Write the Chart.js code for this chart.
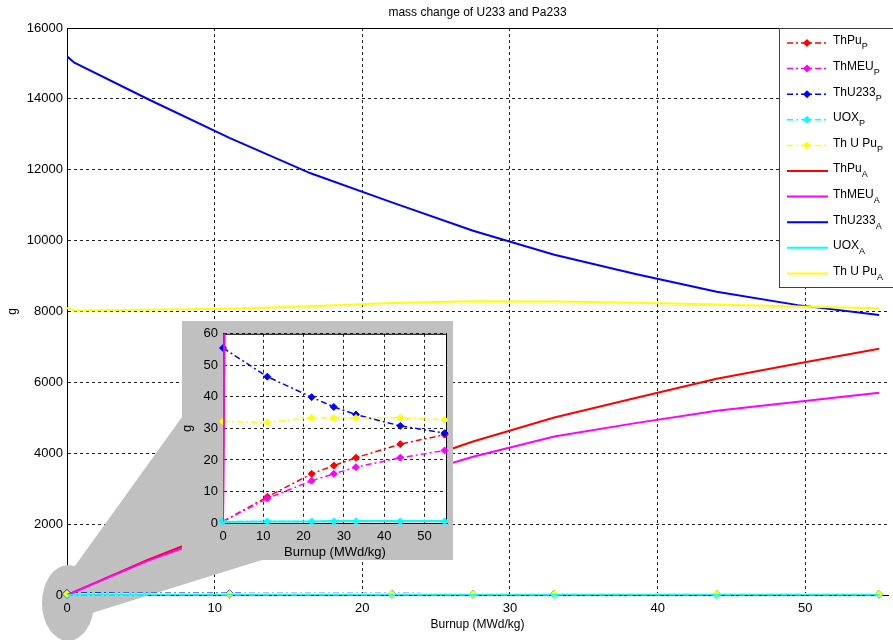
<!DOCTYPE html>
<html>
<head>
<meta charset="utf-8">
<title>mass change of U233 and Pa233</title>
<script src="https://cdn.jsdelivr.net/npm/chart.js@4.4.0/dist/chart.umd.min.js"></script>
<style>
  html, body { margin: 0; padding: 0; background: #fff; }
  #wrap { position: relative; width: 893px; height: 640px; overflow: hidden; }
  #main { position: absolute; left: 0; top: 0; }
  #inset { position: absolute; background: #c0c0c0; }
</style>
</head>
<body>
<div id="wrap">
  <canvas id="main" width="893" height="640"></canvas>
  <canvas id="inset" width="271" height="239"></canvas>
</div>
<script>
'use strict';

// burnup steps (MWd/kg)
var burnupP = [0, 11, 22, 27.5, 33, 44, 55];
var burnupA = [0, 0.5, 5.5, 11, 16.5, 22, 27.5, 33, 38.5, 44, 49.5, 55];

// Pa233 mass (g)
var thPuP = [0.5, 8.3, 15.6, 18.2, 20.7, 25.0, 28.0];
var thMeuP = [0.5, 7.8, 13.4, 15.6, 17.7, 20.7, 23.0];
var thU233P = [55.5, 46.4, 39.9, 36.8, 34.4, 30.8, 28.5];
var uoxP = [0.5, 0.5, 0.5, 0.5, 0.5, 0.5, 0.5];
var thUPuP = [32.2, 31.9, 33.4, 33.3, 33.3, 33.4, 32.7];

// U233 mass (g)
var thPuA = [0, 90, 1000, 1900, 2750, 3550, 4330, 5010, 5560, 6100, 6530, 6950];
var thMeuA = [0, 90, 970, 1800, 2550, 3220, 3900, 4470, 4850, 5200, 5450, 5710];
var thU233A = [15200, 15020, 13990, 12900, 11900, 11080, 10280, 9600, 9060, 8560, 8180, 7900];
var uoxA = [0, 0.3, 0.4, 0.5, 0.5, 0.5, 0.6, 0.6, 0.6, 0.6, 0.6, 0.6];
var thUPuA = [8100, 8030, 8050, 8080, 8150, 8240, 8290, 8280, 8250, 8200, 8140, 8090];

var seriesNames = ['ThPu', 'ThMEU', 'ThU233', 'UOX', 'Th U Pu'];
var seriesColors = ['#ff0000', '#ff00ff', '#0000ff', '#00ffff', '#ffff00'];
var pSeries = [thPuP, thMeuP, thU233P, uoxP, thUPuP];
var aSeries = [thPuA, thMeuA, thU233A, uoxA, thUPuA];

var xTicksMain = [0, 10, 20, 30, 40, 50];
var yTicksMain = [0, 2000, 4000, 6000, 8000, 10000, 12000, 14000, 16000];
var yTicksInset = [0, 10, 20, 30, 40, 50, 60];
var xMax = 55.6;

var FONT = '"Liberation Sans", Arial, sans-serif';
Chart.defaults.font.family = FONT;
Chart.defaults.color = '#000';

// inset placement
var inset = { left: 182, top: 321, width: 271, height: 239 };
var insetCanvas = document.getElementById('inset');
insetCanvas.style.left = inset.left + 'px';
insetCanvas.style.top = inset.top + 'px';

function points(xs, ys) {
  return xs.map(function(x, i) { return { x: x, y: ys[i] }; });
}

function plainLabel(v) { return String(v); }

function buildDatasets() {
  var sets = [];
  var i;
  for (i = 0; i < 5; i++) {
    sets.push({
      label: seriesNames[i] + '_P',
      data: points(burnupP, pSeries[i]),
      borderColor: seriesColors[i],
      backgroundColor: seriesColors[i],
      borderWidth: 1.5,
      borderDash: [6, 3, 2, 3],
      pointStyle: 'rectRot',
      pointRadius: 3.5,
      pointBorderWidth: 1,
      clip: 6,
      order: 20 - i
    });
  }
  for (i = 0; i < 5; i++) {
    sets.push({
      label: seriesNames[i] + '_A',
      data: points(burnupA, aSeries[i]),
      borderColor: seriesColors[i],
      backgroundColor: seriesColors[i],
      borderWidth: 2,
      pointRadius: 0,
      order: 15 - i
    });
  }
  return sets;
}

function gridOpts() {
  return { color: '#222', lineWidth: 1, drawTicks: false };
}

// grey zoom callout + box top line (main chart)
var calloutPlugin = {
  id: 'callout',
  beforeDatasetsDraw: function(chart) {
    var ctx = chart.ctx;
    var ox = chart.scales.x.getPixelForValue(0);
    var oy = chart.scales.y.getPixelForValue(0);
    var a = chart.chartArea;
    ctx.save();
    ctx.strokeStyle = '#000';
    ctx.lineWidth = 1;
    ctx.beginPath();
    ctx.moveTo(a.left, a.top + 0.5);
    ctx.lineTo(a.right, a.top + 0.5);
    ctx.stroke();
    ctx.fillStyle = '#c0c0c0';
    ctx.beginPath();
    ctx.ellipse(ox + 1, oy + 8, 26, 38, 0, 0, Math.PI * 2);
    ctx.fill();
    ctx.beginPath();
    ctx.moveTo(ox + 5, oy - 25);
    ctx.lineTo(inset.left, inset.top + 96);
    ctx.lineTo(inset.left, inset.top + inset.height);
    ctx.lineTo(inset.left + 80, inset.top + inset.height);
    ctx.lineTo(ox + 25, oy + 18);
    ctx.closePath();
    ctx.fill();
    ctx.restore();
  },
  afterDraw: function(chart) {
    var ctx = chart.ctx;
    var a = chart.chartArea;
    ctx.save();
    ctx.fillStyle = '#000';
    ctx.font = '12px ' + FONT;
    ctx.textAlign = 'center';
    ctx.textBaseline = 'middle';
    ctx.fillText('mass change of U233 and Pa233', (a.left + a.right) / 2, 13);
    ctx.restore();
    drawLegend(chart);
  }
};

function drawLegend(chart) {
  var ctx = chart.ctx;
  var a = chart.chartArea;
  var left = a.right - 109;
  var top = a.top;
  ctx.save();
  ctx.fillStyle = '#fff';
  ctx.fillRect(left, top, 130, 259);
  ctx.strokeStyle = '#404040';
  ctx.lineWidth = 1;
  ctx.strokeRect(left + 0.5, top + 0.5, 130, 259);
  chart.data.datasets.forEach(function(ds, i) {
    var y = top + 15 + i * 25.6;
    var parts = ds.label.split('_');
    ctx.strokeStyle = ds.borderColor;
    ctx.lineWidth = ds.borderWidth;
    ctx.setLineDash(ds.borderDash || []);
    ctx.beginPath();
    ctx.moveTo(left + 8, y);
    ctx.lineTo(left + 49, y);
    ctx.stroke();
    ctx.setLineDash([]);
    if (ds.pointRadius > 0) {
      ctx.fillStyle = ds.backgroundColor;
      ctx.beginPath();
      ctx.moveTo(left + 28, y - 4);
      ctx.lineTo(left + 32, y);
      ctx.lineTo(left + 28, y + 4);
      ctx.lineTo(left + 24, y);
      ctx.closePath();
      ctx.fill();
    }
    ctx.fillStyle = '#000';
    ctx.textAlign = 'left';
    ctx.textBaseline = 'middle';
    ctx.font = '12px ' + FONT;
    ctx.fillText(parts[0], left + 54, y - 2);
    var w = ctx.measureText(parts[0]).width;
    ctx.font = '9px ' + FONT;
    ctx.fillText(parts[1], left + 54 + w, y + 4);
  });
  ctx.restore();
}

new Chart(document.getElementById('main'), {
  type: 'line',
  data: { datasets: buildDatasets() },
  options: {
    responsive: false,
    animation: false,
    layout: { padding: { left: 0, right: 0, top: 28, bottom: 0 } },
    plugins: { legend: { display: false }, tooltip: { enabled: false } },
    scales: {
      x: {
        type: 'linear', min: 0, max: xMax,
        afterFit: function(s) { s.height = 45; },
        afterBuildTicks: function(s) { s.ticks = xTicksMain.map(function(v) { return { value: v }; }); },
        ticks: { font: { size: 13 }, padding: 6, maxRotation: 0, z: 1, callback: plainLabel },
        grid: gridOpts(),
        border: { color: '#000', dash: [3, 3] },
        title: { display: true, text: 'Burnup (MWd/kg)', font: { size: 12 }, padding: { top: 0, bottom: 8 } }
      },
      y: {
        min: 0, max: 16000,
        afterFit: function(s) { s.width = 67; },
        afterBuildTicks: function(s) { s.ticks = yTicksMain.map(function(v) { return { value: v }; }); },
        ticks: { font: { size: 13 }, padding: 4, z: 1, callback: plainLabel },
        grid: gridOpts(),
        border: { color: '#000', dash: [3, 3] },
        title: { display: true, text: 'g', font: { size: 12 }, padding: { top: 5, bottom: 0 } }
      }
    }
  },
  plugins: [calloutPlugin]
});

var insetBoxPlugin = {
  id: 'insetBox',
  beforeDraw: function(chart) {
    var a = chart.chartArea;
    chart.ctx.save();
    chart.ctx.fillStyle = '#fff';
    chart.ctx.fillRect(a.left, a.top, a.right - a.left, a.bottom - a.top);
    chart.ctx.restore();
  },
  beforeDatasetsDraw: function(chart) {
    var a = chart.chartArea;
    chart.ctx.save();
    chart.ctx.strokeStyle = '#000';
    chart.ctx.lineWidth = 1;
    chart.ctx.strokeRect(a.left + 0.5, a.top + 0.5, a.right - a.left - 1, a.bottom - a.top);
    chart.ctx.restore();
  }
};

new Chart(insetCanvas, {
  type: 'line',
  data: { datasets: buildDatasets() },
  options: {
    responsive: false,
    animation: false,
    layout: { padding: { left: 0, right: 6, top: 11, bottom: 0 } },
    plugins: { legend: { display: false }, tooltip: { enabled: false } },
    scales: {
      x: {
        type: 'linear', min: 0, max: xMax,
        afterFit: function(s) { s.height = 37; },
        afterBuildTicks: function(s) { s.ticks = xTicksMain.map(function(v) { return { value: v }; }); },
        ticks: { font: { size: 13 }, padding: 6, maxRotation: 0, callback: plainLabel },
        grid: gridOpts(),
        border: { color: '#000', dash: [3, 3] },
        title: { display: true, text: 'Burnup (MWd/kg)', font: { size: 13 }, padding: { top: 0, bottom: 0 } }
      },
      y: {
        min: 0, max: 60,
        afterFit: function(s) { s.width = 41; },
        afterBuildTicks: function(s) { s.ticks = yTicksInset.map(function(v) { return { value: v }; }); },
        ticks: { font: { size: 13 }, padding: 5, callback: plainLabel },
        grid: gridOpts(),
        border: { color: '#000', dash: [3, 3] },
        title: { display: true, text: 'g', font: { size: 13 }, padding: { top: -2, bottom: 0 } }
      }
    }
  },
  plugins: [insetBoxPlugin]
});
</script>
</body>
</html>
